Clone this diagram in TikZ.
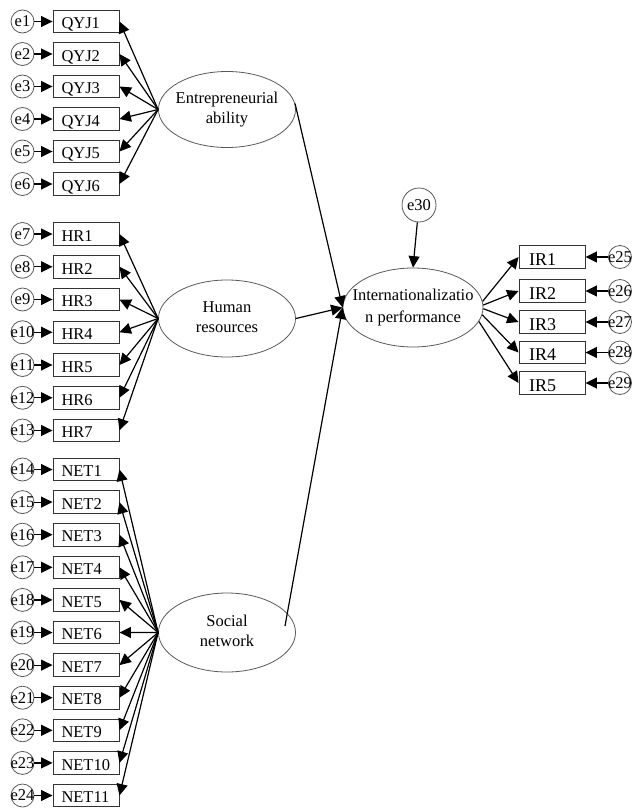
\documentclass[tikz,border=0pt]{standalone}
\usepackage{fontspec}
\setmainfont{Liberation Serif}
\usetikzlibrary{arrows.meta,shapes.geometric,calc}
\newcommand\zw[1]{\makebox[0pt]{#1}}
\newcommand\lab[1]{\makebox[66pt][l]{\hspace{8.5pt}#1}}
\newcommand\twol[2]{\makebox[0pt]{\begin{tabular}{@{}c@{}}#1\\#2\end{tabular}}}
\begin{document}
\begin{tikzpicture}[x=1pt,y=-1pt,
  font=\fontsize{16.5}{20}\selectfont,
  obs/.style={draw=black!80, line width=0.9pt, rectangle, minimum width=66pt, minimum height=22.5pt, inner sep=0pt, text height=14.5pt, text depth=0pt},
  errc/.style={draw=black!65, line width=0.8pt, circle, minimum size=23pt, inner sep=0pt},
  bigerr/.style={draw=black!65, line width=0.8pt, circle, minimum size=34pt, inner sep=0pt},
  lat/.style={draw=black!65, line width=0.8pt, ellipse, minimum width=137pt, minimum height=76pt, inner sep=0pt},
  arr/.style={-{Triangle[length=11.5pt,width=11pt]}, line width=1.2pt},
]
\useasboundingbox (0,0) rectangle (632,808);

% latent variables
\node[lat] (ent) at (227,109.5) {\twol{Entrepreneurial}{ability}};
\node[lat, minimum height=77pt] (hum) at (227,318.5) {\twol{Human}{resources}};
\node[lat, minimum height=79pt] (soc) at (227,632.5) {\twol{Social}{network}};
\node[lat, minimum width=140pt, minimum height=79pt] (intl) at (413,307.5)
  {\makebox[0pt]{\renewcommand\arraystretch{1.1}\begin{tabular}{@{}c@{}}Internationalizatio\\n performance\end{tabular}}};

% Entrepreneurial ability indicators
\foreach \i in {1,...,6} {
  \pgfmathsetmacro\yy{21.5+(\i-1)*32.5}
  \node[obs] (q\i) at (86,\yy) {\lab{QYJ\i}};
  \node[errc] (e\i) at (22.5,\yy) {\zw{e\i}};
  \draw[arr] (e\i) -- (q\i);
  \draw[arr] (ent.west) -- (q\i.east);
}

% Human resources indicators
\foreach \i in {1,...,7} {
  \pgfmathsetmacro\yy{234+(\i-1)*32.75}
  \pgfmathtruncatemacro\n{\i+6}
  \node[obs] (h\i) at (86,\yy) {\lab{HR\i}};
  \node[errc] (e\n) at (22.5,\yy) {\zw{e\n}};
  \draw[arr] (e\n) -- (h\i);
  \draw[arr] (hum.west) -- (h\i.east);
}

% Social network indicators
\foreach \i in {1,...,11} {
  \pgfmathsetmacro\yy{469.5+(\i-1)*32.6}
  \pgfmathtruncatemacro\n{\i+13}
  \node[obs] (n\i) at (86,\yy) {\lab{NET\i}};
  \node[errc] (e\n) at (22.5,\yy) {\zw{e\n}};
  \draw[arr] (e\n) -- (n\i);
  \draw[arr] (soc.west) -- (n\i.east);
}

% Internationalization performance indicators
\foreach \i/\yy/\a in {1/257/5,2/291/2,3/322/-1,4/352.5/-6,5/383/-12} {
  \pgfmathtruncatemacro\n{\i+24}
  \node[obs, text height=16.5pt] (r\i) at (552,\yy) {\makebox[66pt][l]{\hspace{10pt}\fontsize{18}{20}\selectfont IR\i}};
  \node[errc] (e\n) at (620,\yy) {\zw{e\n}};
  \draw[arr] (e\n) -- (r\i);
  \draw[arr] (intl.\a) -- (r\i.west);
}

% structural paths
\coordinate (socout) at (285,626);
\draw[arr] (ent.5) -- (intl.west);
\draw[arr] (hum.east) -- (intl.west);
\draw[arr] (socout) -- (intl.west);

% disturbance
\node[bigerr] (e30) at (419,205) {\zw{e30}};
\draw[arr] (e30) -- (intl.north);
\end{tikzpicture}
\end{document}
